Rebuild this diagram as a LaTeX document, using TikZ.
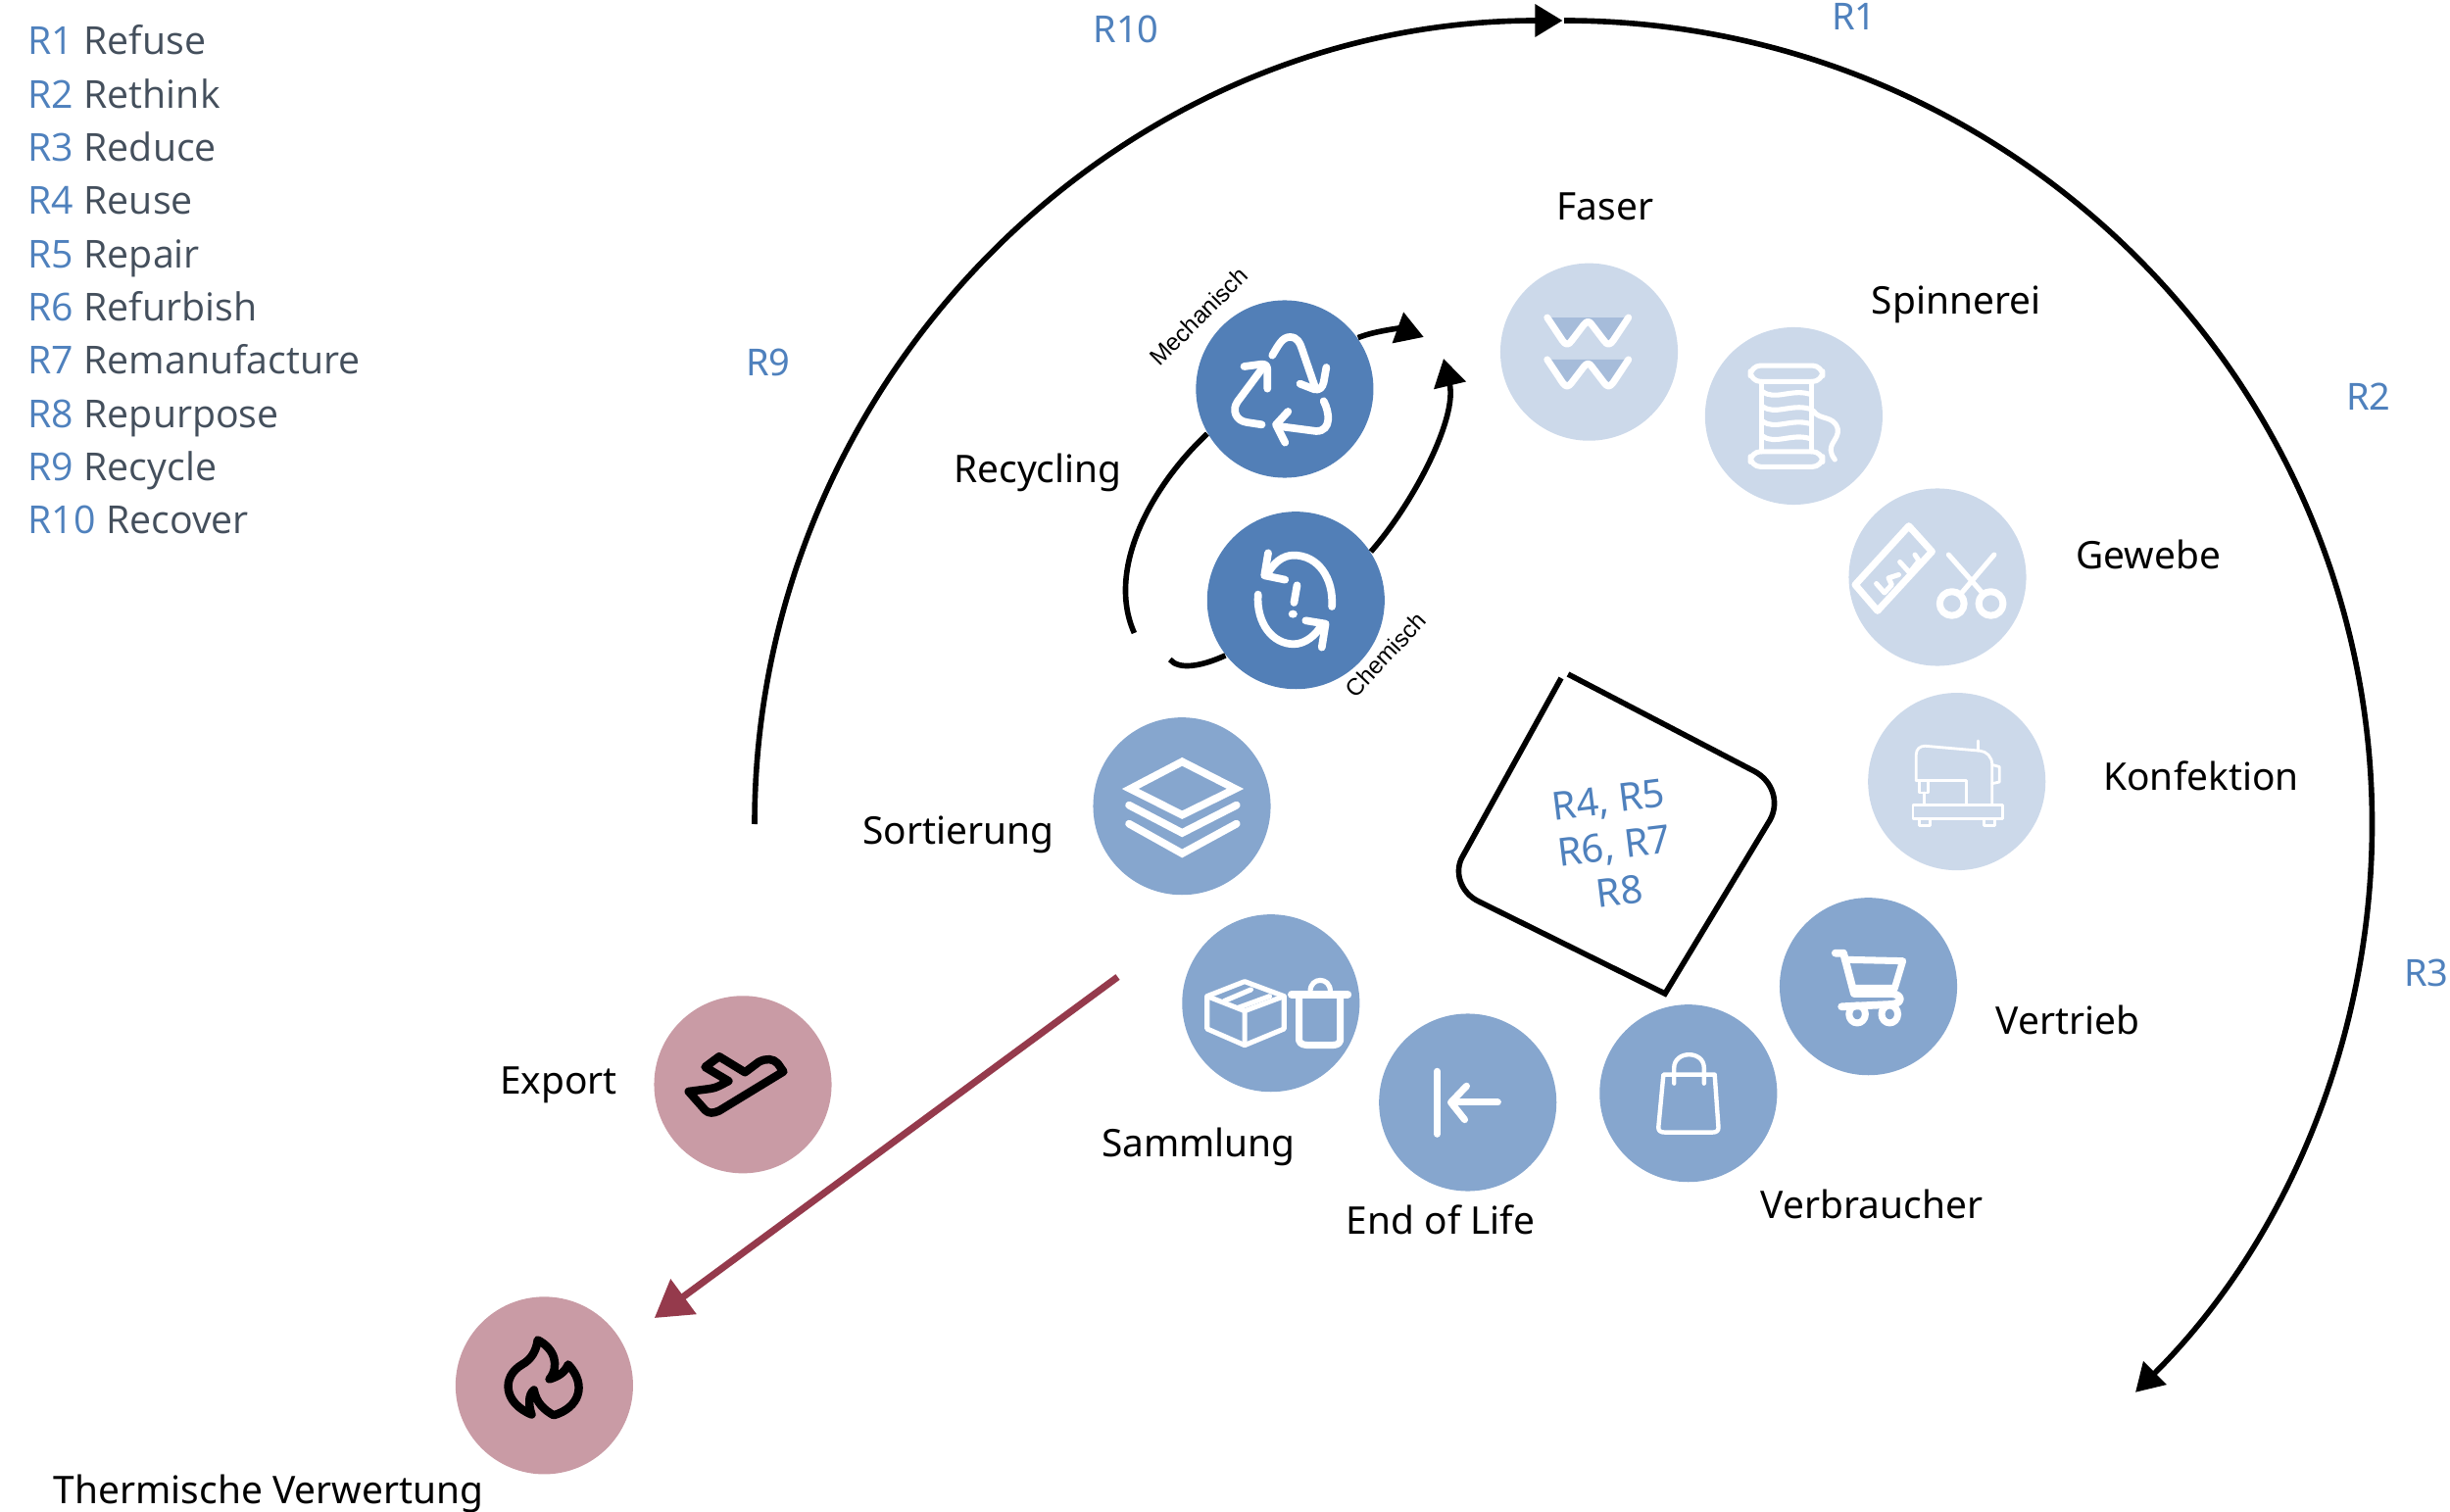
\documentclass[tikz,border=0pt]{standalone}
\usepackage{fontspec}
\setmainfont{Noto Sans}
\newfontfamily\legendfont{Open Sans}
\newfontfamily\smallfont{Liberation Sans}
\usetikzlibrary{arrows.meta}
\definecolor{blueD}{HTML}{527FB7}
\definecolor{blueM}{HTML}{86A6CE}
\definecolor{blueL}{HTML}{CCD9EA}
\definecolor{blueF}{HTML}{A6BCDA}
\definecolor{rosec}{HTML}{C99BA5}
\definecolor{crim}{HTML}{953A4C}
\definecolor{rtext}{HTML}{4F81BD}
\definecolor{ltext}{HTML}{444F5C}
\tikzset{
  circ/.style={circle,minimum size=1.81cm,inner sep=0pt,draw=none},
  lab/.style={font=\fontsize{11.05}{13}\selectfont,text=black,inner sep=0pt},
  rlab/.style={font=\fontsize{10.8}{13.4}\selectfont,text=rtext,inner sep=0pt},
  boxlab/.style={font=\fontsize{11.3}{13.4}\selectfont,text=rtext,inner sep=0pt},
  leg/.style={font=\legendfont\fontsize{11.17}{13}\selectfont,text=ltext,inner sep=0pt,anchor=base west},
  tinylab/.style={font=\smallfont\fontsize{6.9}{9}\selectfont,text=black,inner sep=0pt},
  tip/.style={-{Triangle[length=8pt,width=9.2pt]}},
  blackln/.style={draw=black,line width=1.6pt},
  zA/.style={shift={(1100,250)},xscale=0.3827,yscale=0.3333},
  zB/.style={shift={(1500,260)},xscale=0.4146,yscale=0.4082},
  zC/.style={shift={(1050,700)},xscale=0.6378,yscale=0.3333},
  zD/.style={shift={(430,980)},xscale=0.4785,yscale=0.3571},
  wbold/.style={draw=white,line cap=round,line join=round,line width=2.2pt},
  wico/.style={draw=white,line cap=round,line join=round,line width=2pt},
  wthin/.style={draw=white,line cap=round,line join=round,line width=1.45pt},
  whair/.style={draw=white,line cap=round,line join=round,line width=0.8pt},
  kico/.style={draw=black,line cap=round,line join=round,line width=2.4pt},
}
\begin{document}
\begin{tikzpicture}[x=0.01cm,y=-0.01cm]
\useasboundingbox (0,0) rectangle (2500,1543);

% circles
\node[circ,fill=blueL] (faser) at (1621.5,359.2) {};
\node[circ,fill=blueL] (spin) at (1830.4,424.5) {};
\node[circ,fill=blueL] (gewebe) at (1977,589) {};
\node[circ,fill=blueL] (konf) at (1996.7,797.6) {};
\node[circ,fill=blueM] (vertrieb) at (1906.5,1006.7) {};
\node[circ,fill=blueM] (verbr) at (1722.8,1115.7) {};
\node[circ,fill=blueM] (eol) at (1497.7,1125) {};
\node[circ,fill=blueM] (samml) at (1296.8,1023.7) {};
\node[circ,fill=blueM] (sort) at (1206,822.7) {};
\node[circ,fill=blueD] (mech) at (1310.9,397) {};
\node[circ,fill=blueD] (chem) at (1322.3,612.7) {};
\node[circ,fill=rosec] (export) at (758,1106.8) {};
\node[circ,fill=rosec] (therm) at (555.4,1413.9) {};

% big arcs
\coordinate (arcL) at (770,841);
\coordinate (arcRs) at (1596,21);
\draw[blackln,tip] (arcL) arc[start angle=180,end angle=270,x radius=824.5,y radius=820];
\draw[blackln,tip] (arcRs) arc[start angle=270,end angle=405,x radius=824.5,y radius=820];

% recycling connectors
\coordinate (mechend) at (1452.8,344);
\coordinate (chemend) at (1473,366);
\coordinate (leftend) at (1157.4,646);
\coordinate (botend) at (1193.8,673);
\draw[blackln,tip] (mech.35) .. controls (1402,338) and (1428,335) .. (mechend);
\draw[blackln,tip] (chem.33) .. controls (1445,510) and (1487,425) .. (chemend);
\draw[blackln] (mech.210) .. controls (1176,495) and (1128,580) .. (leftend);
\draw[blackln] (chem.218) .. controls (1226,680) and (1203,684) .. (botend);

% red arrow
\coordinate (redstart) at (1140.5,997);
\coordinate (redend) at (667.8,1345);
\draw[draw=crim,line width=2pt,-{Triangle[length=10.5pt,width=12.2pt]}] (redstart) -- (redend);

% R box
\coordinate (bT) at (1600,688);
\coordinate (bEnd) at (1593,692);
\coordinate (bB) at (1699,1014);
\draw[blackln] (bT) -- (1790,787) .. controls (1809,797) and (1816,819) .. (1806,837) -- (bB) -- (1509,920) .. controls (1490,911) and (1483,889) .. (1493,873) -- (bEnd);
\node[boxlab,rotate=7,align=center] (boxtext) at (1647,863) {R4, R5\\R6, R7\\R8};

% Faser icon
\begin{scope}[zB]
  \foreach \d in {0,105}{
    \fill[blueF,shift={(0,\d)}] (195,157) -- (238,222) -- (290,165) -- (342,222) -- (385,157) -- cycle;
    \draw[wico,shift={(0,\d)}] (190,157) -- (228,215) .. controls (236,226) and (242,226) .. (250,215) -- (280,175) .. controls (288,165) and (293,165) .. (300,175) -- (330,215) .. controls (338,226) and (344,226) .. (352,215) -- (390,157);
  }
\end{scope}

% Spinnerei icon
\begin{scope}[zB]
  \draw[wthin,rounded corners=3pt] (690,277) rectangle (868,317);
  \draw[wthin,rounded corners=3pt] (690,492) rectangle (868,530);
  \draw[wthin] (718,317) -- (718,492) (840,317) -- (840,492);
  \foreach \y in {0,37,74,111}{
    \draw[wthin,shift={(0,\y)}] (720,342) .. controls (750,365) and (790,335) .. (835,348);
  }
  \draw[wthin] (845,390) .. controls (860,415) and (895,400) .. (905,435) .. controls (910,465) and (870,475) .. (898,512);
\end{scope}

% Gewebe icon
\begin{scope}[zB]
  \draw[wico] (1080,678) -- (1137,742) -- (1003,890) -- (948,825) -- cycle;
  \draw[wthin] (1000,822) -- (1020,845) -- (1038,825) -- (1030,808) -- (1055,800) (1058,768) -- (1082,795) -- (1105,765) -- (1095,750);
  \draw[wthin] (1178,750) -- (1265,850) (1290,750) -- (1206,850);
  \draw[wico] (1186,872) circle[radius=30];
  \draw[wico] (1282,872) circle[radius=30];
\end{scope}

% Konfektion icon
\begin{scope}[zB]
  \draw[whair] (1090,1375) rectangle (1310,1410);
  \draw[whair] (1105,1410) rectangle (1132,1426) (1265,1410) rectangle (1292,1426);
  \draw[whair] (1098,1315) -- (1098,1250) .. controls (1098,1235) and (1108,1228) .. (1120,1228) -- (1255,1240) .. controls (1272,1242) and (1285,1255) .. (1285,1275) -- (1285,1375);
  \draw[whair] (1098,1315) -- (1222,1315) -- (1222,1375);
  \draw[whair] (1105,1315) rectangle (1128,1345) (1118,1345) -- (1118,1375);
  \draw[whair] (1250,1215) -- (1250,1240);
  \draw[whair] (1285,1275) -- (1303,1280) -- (1303,1318) -- (1285,1322);
\end{scope}

% Vertrieb icon
\begin{scope}[zC]
  \draw[wbold] (1290,818) -- (1303,818) -- (1320,942) -- (1380,942) .. controls (1398,945) and (1398,972) .. (1380,975) -- (1300,982);
  \draw[wico] (1305,838) -- (1398,842) -- (1385,925) -- (1318,925);
  \draw[wico] (1325,1005) ellipse[x radius=13,y radius=27];
  \draw[wico] (1377,1005) ellipse[x radius=13,y radius=27];
\end{scope}

% Verbraucher icon
\begin{scope}[zC]
  \draw[wthin,line width=1.25pt] (1015,1190) -- (1097,1190) -- (1103,1352) .. controls (1103,1362) and (1100,1367) .. (1093,1367) -- (1018,1367) .. controls (1010,1367) and (1007,1362) .. (1007,1352) -- cycle;
  \draw[wthin,line width=1.25pt] (1032,1217) -- (1032,1170) .. controls (1032,1115) and (1080,1115) .. (1080,1170) -- (1080,1217);
\end{scope}

% End of Life icon
\begin{scope}[zC]
  \draw[wico] (653,1180) -- (653,1372);
  \draw[wico] (750,1275) -- (680,1275);
  \draw[wico] (700,1225) -- (675,1275) -- (697,1328);
\end{scope}

% Sammlung icon
\begin{scope}[zC]
  \draw[wthin] (345,905) -- (408,950) -- (408,1050) -- (345,1100) -- (285,1050) -- (285,950) -- cycle;
  \draw[wthin] (285,950) -- (345,995) -- (408,950) (345,995) -- (345,1100);
  \draw[wthin] (312,965) -- (355,930) (335,985) -- (385,950);
  \draw[wbold] (420,945) -- (510,945);
  \draw[wthin] (450,935) .. controls (450,890) and (482,890) .. (482,935);
  \draw[wico] (432,950) -- (432,1085) .. controls (434,1098) and (440,1100) .. (450,1100) -- (482,1100) .. controls (492,1100) and (496,1098) .. (498,1085) -- (498,950);
\end{scope}

% Sortierung icon
\begin{scope}[zC]
  \draw[wbold,line join=miter] (245,232) -- (330,315) -- (245,395) -- (162,315) -- cycle;
  \draw[wbold,line join=miter] (160,365) -- (245,450) -- (332,365);
  \draw[wbold,line join=miter] (160,422) -- (245,513) -- (332,422);
\end{scope}

% Mechanisch icon
\begin{scope}[zA]
  \draw[wbold] (518,338) .. controls (535,305) and (545,282) .. (565,282) .. controls (585,282) and (592,300) .. (597,318) -- (632,435);
  \draw[wbold] (592,425) -- (630,442) .. controls (645,446) and (652,435) .. (655,420) -- (662,375);
  \draw[wbold] (490,550) -- (450,543) .. controls (420,538) and (410,505) .. (425,480) -- (495,372);
  \draw[wbold] (443,372) -- (490,365) .. controls (503,365) and (505,372) .. (505,385) -- (505,440);
  \draw[wbold] (655,478) .. controls (670,510) and (678,570) .. (635,570) -- (535,555);
  \draw[wbold] (560,510) -- (528,550) -- (552,605);
\end{scope}

% Chemisch icon
\begin{scope}[zA]
  \draw[wbold] (677,1107) .. controls (682,1020) and (640,950) .. (575,950) .. controls (545,950) and (520,975) .. (505,1008);
  \draw[wbold] (507,943) -- (497,1012) -- (552,1025);
  \draw[wbold] (480,1070) .. controls (475,1160) and (520,1222) .. (575,1222) .. controls (605,1222) and (635,1195) .. (650,1162);
  \draw[wbold] (607,1150) -- (660,1160) -- (650,1232);
  \draw[wbold] (584,1042) -- (576,1095);
  \fill[white] (573,1130) ellipse[x radius=12,y radius=12];
\end{scope}

% Export icon
\begin{scope}[zD]
  \draw[kico] (570,375) -- (615,367) .. controls (630,365) and (640,355) .. (655,345) -- (605,305) -- (635,275) -- (690,320) -- (720,290) .. controls (735,280) and (750,280) .. (760,295) -- (772,318) -- (635,430) .. controls (622,438) and (612,438) .. (605,428) -- cycle;
\end{scope}

% Fire icon
\begin{scope}[zD]
  \draw[kico] (248,1085) .. controls (245,1115) and (235,1140) .. (215,1155) .. controls (170,1190) and (175,1265) .. (235,1298) .. controls (228,1270) and (228,1240) .. (240,1228) .. controls (245,1265) and (262,1285) .. (282,1300) .. controls (335,1280) and (355,1215) .. (313,1155) .. controls (305,1180) and (290,1190) .. (273,1197) .. controls (295,1160) and (285,1110) .. (248,1085) -- cycle;
\end{scope}

% labels
\node[lab] (l1) at (1638,211) {Faser};
\node[lab] (l2) at (1996,311) {Spinnerei};
\node[lab] (l3) at (2192,566) {Gewebe};
\node[lab] (l4) at (2246,792) {Konfektion};
\node[lab] (l5) at (2110,1041) {Vertrieb};
\node[lab] (l6) at (1910,1229) {Verbraucher};
\node[lab] (l7) at (1470,1245) {End of Life};
\node[lab] (l8) at (1223,1170) {Sammlung};
\node[lab] (l9) at (978,852) {Sortierung};
\node[lab] (l10) at (1059,482) {Recycling};
\node[lab] (l11) at (570,1107) {Export};
\node[lab] (l12) at (274,1524) {Thermische Verwertung};
\node[rlab] (r10) at (1149,30) {R10};
\node[rlab] (r1) at (1892,17) {R1};
\node[rlab] (r2) at (2417,405) {R2};
\node[rlab] (r3) at (2476,993) {R3};
\node[rlab] (r9) at (784,370) {R9};
\node[tinylab,rotate=45] (tm) at (1223,323) {Mechanisch};
\node[tinylab,rotate=47] (tc) at (1414,668) {Chemisch};

% legend
\newcommand{\Rn}[1]{\textcolor{rtext}{#1}}
\node[leg] (g1) at (28,56) {\Rn{R1} Refuse};
\node[leg] (g2) at (28,110.3) {\Rn{R2} Rethink};
\node[leg] (g3) at (28,164.6) {\Rn{R3} Reduce};
\node[leg] (g4) at (28,218.9) {\Rn{R4} Reuse};
\node[leg] (g5) at (28,273.2) {\Rn{R5} Repair};
\node[leg] (g6) at (28,327.5) {\Rn{R6} Refurbish};
\node[leg] (g7) at (28,381.8) {\Rn{R7} Remanufacture};
\node[leg] (g8) at (28,436.1) {\Rn{R8} Repurpose};
\node[leg] (g9) at (28,490.4) {\Rn{R9} Recycle};
\node[leg] (g10) at (28,544.7) {\Rn{R10} Recover};
\end{tikzpicture}
\end{document}
